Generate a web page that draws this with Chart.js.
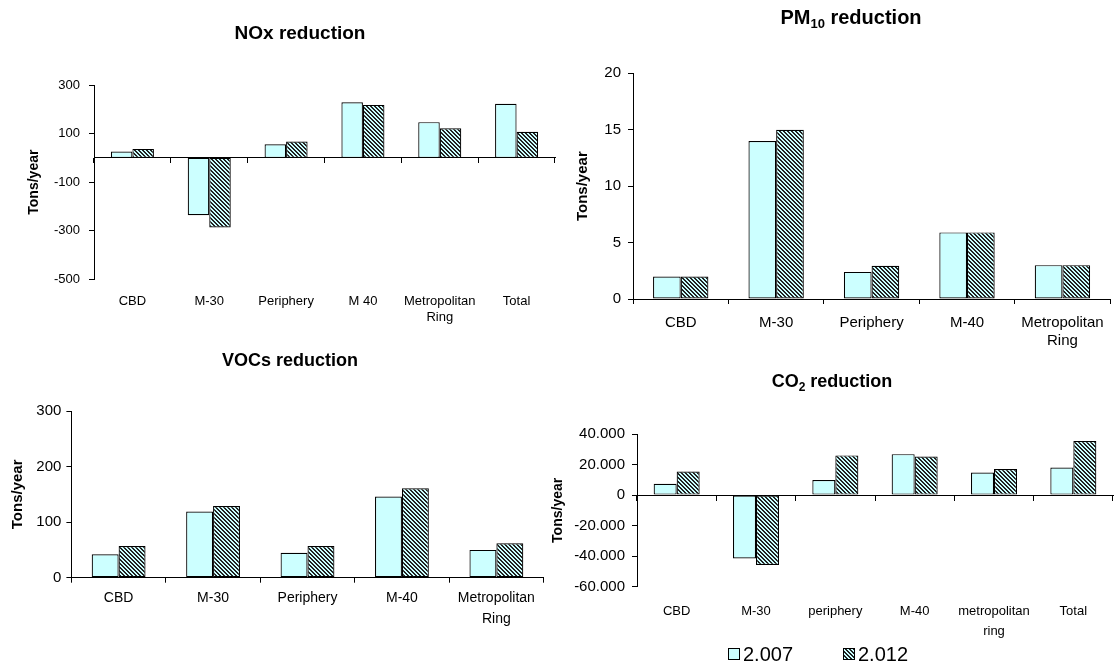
<!DOCTYPE html>
<html>
<head>
<meta charset="utf-8">
<script src="https://cdn.jsdelivr.net/npm/chart.js@4.4.1/dist/chart.umd.min.js"></script>
<style>
  body { margin: 0; background: #fff; width: 1114px; height: 664px; position: relative; overflow: hidden; }
  canvas { position: absolute; }
</style>
</head>
<body>
<canvas id="nox" width="560" height="330" style="left:0;top:0"></canvas>
<canvas id="pm10" width="554" height="360" style="left:560px;top:0"></canvas>
<canvas id="vocs" width="548" height="300" style="left:0;top:340px"></canvas>
<canvas id="co2" width="574" height="304" style="left:540px;top:360px"></canvas>
<script>
// series (years)
const seriesNames = ['2.007', '2.012'];

// NOx reduction
const noxCategories = ['CBD', 'M-30', 'Periphery', 'M 40', ['Metropolitan', 'Ring'], 'Total'];
const nox2007 = [26, -236, 56, 229, 147, 223];
const nox2012 = [37, -287, 67, 218, 122, 107];
const noxTicks = [-500, -300, -100, 100, 300];

// PM10 reduction
const pmCategories = ['CBD', 'M-30', 'Periphery', 'M-40', ['Metropolitan', 'Ring']];
const pm2007 = [2, 14, 2.4, 5.9, 3];
const pm2012 = [2, 15, 2.95, 5.9, 3];
const pmTicks = [0, 5, 10, 15, 20];

// VOCs reduction
const vocCategories = ['CBD', 'M-30', 'Periphery', 'M-40', ['Metropolitan', 'Ring']];
const voc2007 = [42, 119, 45, 146, 50];
const voc2012 = [57, 129, 57, 161, 62];
const vocTicks = [0, 100, 200, 300];

// CO2 reduction
const co2Categories = ['CBD', 'M-30', 'periphery', 'M-40', ['metropolitan', 'ring'], 'Total'];
const co22007 = [7400, -41500, 9800, 26800, 14800, 18100];
const co22012 = [15400, -45800, 26000, 25300, 17000, 35400];
const co2Ticks = [-60000, -40000, -20000, 0, 20000, 40000];

const FONT = "'Liberation Sans', Arial, sans-serif";
Chart.defaults.font.family = FONT;
Chart.defaults.color = '#000';

// cyan fill with dark "\" stripes
function hatchPattern() {
  const n = 4;
  const c = document.createElement('canvas');
  c.width = n; c.height = n;
  const g = c.getContext('2d');
  g.fillStyle = '#CCFFFF';
  g.fillRect(0, 0, n, n);
  g.fillStyle = '#222';
  for (let y = 0; y < n; y++) {
    g.fillRect(y, y, 1, 1);
    g.fillRect((y + 1) % n, y, 1, 1);
  }
  return g.createPattern(c, 'repeat');
}
const hatch = hatchPattern();

const dotThousands = v => {
  const s = Math.abs(v).toString().replace(/\B(?=(\d{3})+(?!\d))/g, '.');
  return (v < 0 ? '-' : '') + s;
};

// title with optional subscript: text = [normal, sub, normal, ...]
const titlePlugin = {
  id: 'chartTitle',
  afterDraw(chart, args, opts) {
    const ctx = chart.ctx;
    const big = 'bold ' + opts.size + 'px ' + FONT;
    const small = 'bold ' + Math.round(opts.size * 0.65) + 'px ' + FONT;
    const parts = opts.text;
    ctx.save();
    ctx.fillStyle = '#000';
    ctx.textBaseline = 'middle';
    ctx.textAlign = 'left';
    let w = 0;
    for (let i = 0; i < parts.length; i++) {
      ctx.font = i % 2 ? small : big;
      w += ctx.measureText(parts[i]).width;
    }
    let x = opts.x - w / 2;
    for (let i = 0; i < parts.length; i++) {
      ctx.font = i % 2 ? small : big;
      ctx.fillText(parts[i], x, opts.y + (i % 2 ? opts.size * 0.3 : 0));
      x += ctx.measureText(parts[i]).width;
    }
    ctx.restore();
  }
};

const legendPlugin = {
  id: 'boxLegend',
  afterDraw(chart, args, opts) {
    if (!opts.xs) return;
    const ctx = chart.ctx;
    ctx.save();
    chart.data.datasets.forEach((ds, i) => {
      const x = opts.xs[i], y = opts.y;
      ctx.fillStyle = ds.backgroundColor;
      ctx.fillRect(x, y - 6, 12, 12);
      ctx.strokeStyle = '#000';
      ctx.lineWidth = 1;
      ctx.strokeRect(x + 0.5, y - 5.5, 11, 11);
      ctx.fillStyle = '#000';
      ctx.font = opts.size + 'px ' + FONT;
      ctx.textBaseline = 'middle';
      ctx.fillText(ds.label, x + 15, y + 1);
    });
    ctx.restore();
  }
};

function barChart(id, o) {
  const scales = {
    x: {
      offset: true,
      afterFit: s => { s.height = o.xh; },
      border: { display: !o.zeroAxis, color: '#000', width: 1 },
      grid: { display: !o.zeroAxis, offset: true, drawOnChartArea: false, tickLength: 5, color: '#000' },
      ticks: { padding: o.xpad, maxRotation: 0, autoSkip: false, color: '#000', font: { size: o.xfont, lineHeight: o.xlh } }
    },
    y: {
      min: o.ticks[0],
      max: o.ticks[o.ticks.length - 1],
      afterBuildTicks: s => { s.ticks = o.ticks.map(v => ({ value: v })); },
      afterFit: s => { s.width = o.yw; },
      border: { color: '#000', width: 1 },
      grid: { drawOnChartArea: false, tickLength: 5, color: '#000' },
      ticks: { padding: o.ypad, color: '#000', font: { size: o.yfont }, callback: o.fmt || (v => String(v)) },
      title: { display: true, text: 'Tons/year', color: '#000', font: { size: o.tfont, weight: 'bold' }, padding: { top: o.tpad, bottom: 0 } }
    }
  };
  if (o.zeroAxis) {
    // axis line drawn through zero, labels stay at the bottom
    scales.xz = {
      axis: 'x',
      type: 'category',
      position: { y: 0 },
      offset: true,
      border: { color: '#000', width: 1 },
      grid: { offset: true, drawOnChartArea: false, tickLength: 5, color: '#000' },
      ticks: { display: false, autoSkip: false }
    };
  }
  return new Chart(document.getElementById(id), {
    type: 'bar',
    data: {
      labels: o.labels,
      datasets: [
        { label: seriesNames[0], data: o.a, backgroundColor: '#CCFFFF', borderColor: '#000', borderWidth: 1.2, borderSkipped: false, categoryPercentage: o.cat, barPercentage: 1 },
        { label: seriesNames[1], data: o.b, backgroundColor: hatch, borderColor: '#000', borderWidth: 1.2, borderSkipped: false, categoryPercentage: o.cat, barPercentage: 1 }
      ]
    },
    options: {
      responsive: false,
      animation: false,
      events: [],
      layout: { padding: { top: o.top, right: o.right, left: 0, bottom: 0 } },
      plugins: {
        legend: { display: false },
        tooltip: { enabled: false },
        chartTitle: { text: o.title, x: o.titleX, y: o.titleY, size: o.tsize || 19 },
        boxLegend: o.legend || {}
      },
      scales: scales
    },
    plugins: [titlePlugin, legendPlugin]
  });
}

barChart('nox', {
  labels: noxCategories, a: nox2007, b: nox2012, ticks: noxTicks,
  title: ['NOx reduction'], titleX: 300, titleY: 34, tsize: 19,
  top: 85, right: 5, yw: 94, xh: 50.7, cat: 0.56, zeroAxis: true,
  yfont: 13, ypad: 9, tfont: 14, tpad: 25.6, xfont: 13, xlh: 1.2, xpad: 9.6
});

barChart('pm10', {
  labels: pmCategories, a: pm2007, b: pm2012, ticks: pmTicks,
  title: ['PM', '10', ' reduction'], titleX: 291, titleY: 18, tsize: 20,
  top: 73.3, right: 3, yw: 73, xh: 61, cat: 0.58, zeroAxis: false,
  yfont: 15, ypad: 7, tfont: 15, tpad: 14, xfont: 15, xlh: 1.2, xpad: 10
});

barChart('vocs', {
  labels: vocCategories, a: voc2007, b: voc2012, ticks: vocTicks,
  title: ['VOCs reduction'], titleX: 290, titleY: 21, tsize: 18,
  top: 71, right: 4.4, yw: 71.4, xh: 62.3, cat: 0.57, zeroAxis: false,
  yfont: 15, ypad: 5, tfont: 15, tpad: 8.9, xfont: 14, xlh: 1.5, xpad: 5
});

barChart('co2', {
  labels: co2Categories, a: co22007, b: co22012, ticks: co2Ticks, fmt: dotThousands,
  title: ['CO', '2', ' reduction'], titleX: 292, titleY: 22, tsize: 18,
  top: 74, right: 1, yw: 97, xh: 77.3, cat: 0.58, zeroAxis: true,
  yfont: 15, ypad: 7, tfont: 14, tpad: 9.6, xfont: 13, xlh: 1.5, xpad: 10,
  legend: { xs: [188, 303], y: 294, size: 20 }
});
</script>
</body>
</html>
